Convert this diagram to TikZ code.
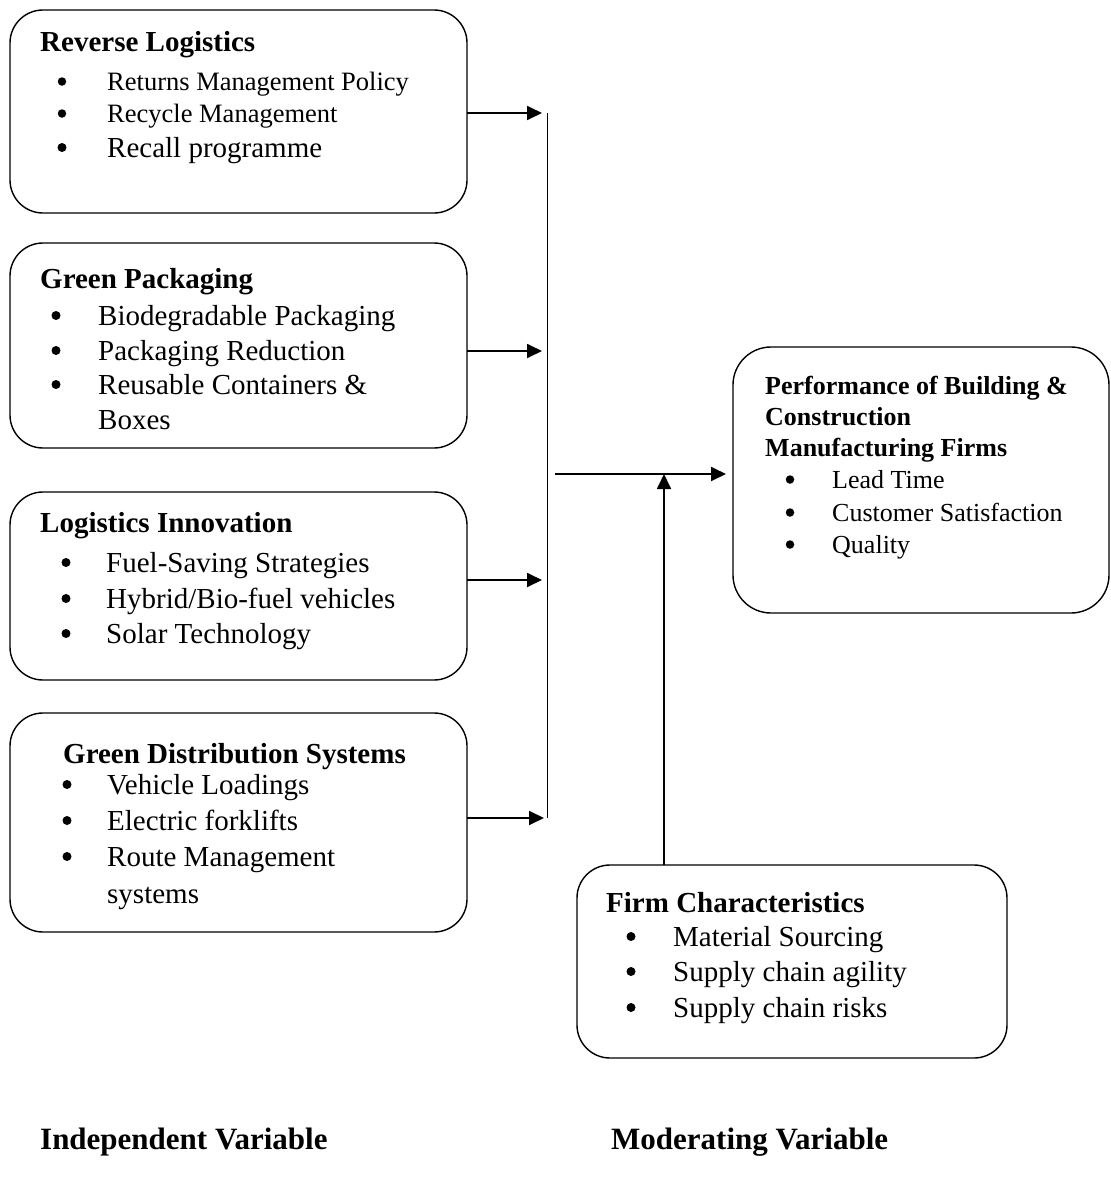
\documentclass[tikz,border=0pt]{standalone}
\usepackage{fontspec}
\setmainfont{Liberation Serif}
\usetikzlibrary{arrows.meta}
\begin{document}
\begin{tikzpicture}[x=1pt,y=-1pt,
  box/.style={draw, line width=1.4pt, rounded corners=33pt, inner sep=0pt, outer sep=0pt, anchor=north west},
  hd/.style={anchor=base west, inner sep=0pt, font=\fontsize{29}{34}\selectfont\bfseries},
  hds/.style={anchor=base west, inner sep=0pt, font=\fontsize{26}{31}\selectfont\bfseries},
  hdb/.style={anchor=base west, inner sep=0pt, font=\fontsize{31}{36}\selectfont\bfseries},
  itm/.style={anchor=base west, inner sep=0pt, font=\fontsize{29}{34}\selectfont},
  itms/.style={anchor=base west, inner sep=0pt, font=\fontsize{26.5}{31}\selectfont},
  itmp/.style={anchor=base west, inner sep=0pt, font=\fontsize{26}{31}\selectfont},
  bul/.style={circle, fill, inner sep=0pt, outer sep=0pt, minimum size=9pt, yshift=9.5pt},
  buls/.style={circle, fill, inner sep=0pt, outer sep=0pt, minimum size=8.5pt, yshift=8.5pt},
  arr/.style={line width=1.8pt, -{Triangle[length=15pt,width=14pt]}},
  bar/.style={line width=1pt}
]
\useasboundingbox (0,0) rectangle (1111,1181);

% boxes
\node[box, minimum width=457pt, minimum height=203pt] (b1) at (10,10) {};
\node[box, minimum width=457pt, minimum height=205pt] (b2) at (10,243) {};
\node[box, minimum width=457pt, minimum height=188pt] (b3) at (10,492) {};
\node[box, minimum width=457pt, minimum height=219pt] (b4) at (10,713) {};
\node[box, rounded corners=38pt, minimum width=376pt, minimum height=266pt] (perf) at (733,347) {};
\node[box, minimum width=430pt, minimum height=193pt] (firm) at (577,865) {};

% box 1
\node[hd] (t1h) at (40,51) {Reverse Logistics};
\node[buls] (t1b1) at (62,90) {};
\node[buls] (t1b2) at (62,122) {};
\node[bul] (t1b3) at (62,157) {};
\node[itms] (t1a) at (107,90) {Returns Management Policy};
\node[itms] (t1b) at (107,122) {Recycle Management};
\node[itm] (t1c) at (107,157) {Recall programme};

% box 2
\node[hd] (t2h) at (40,288) {Green Packaging};
\node[bul] (t2b1) at (56,325) {};
\node[bul] (t2b2) at (56,360) {};
\node[bul] (t2b3) at (56,394) {};
\node[itm] (t2a) at (98,325) {Biodegradable Packaging};
\node[itm] (t2b) at (98,360) {Packaging Reduction};
\node[itm] (t2c) at (98,394) {Reusable Containers \&};
\node[itm] (t2d) at (98,429) {Boxes};

% box 3
\node[hd] (t3h) at (40,532) {Logistics Innovation};
\node[bul] (t3b1) at (66,572) {};
\node[bul] (t3b2) at (66,608) {};
\node[bul] (t3b3) at (66,643) {};
\node[itm] (t3a) at (106,572) {Fuel-Saving Strategies};
\node[itm] (t3b) at (106,608) {Hybrid/Bio-fuel vehicles};
\node[itm] (t3c) at (106,643) {Solar Technology};

% box 4
\node[hd] (t4h) at (63,763) {Green Distribution Systems};
\node[bul] (t4b1) at (67,794) {};
\node[bul] (t4b2) at (67,830) {};
\node[bul] (t4b3) at (67,866) {};
\node[itm] (t4a) at (107,794) {Vehicle Loadings};
\node[itm] (t4b) at (107,830) {Electric forklifts};
\node[itm] (t4c) at (107,866) {Route Management};
\node[itm] (t4d) at (107,903) {systems};

% performance
\node[hds] (tph1) at (765,394) {Performance of Building \&};
\node[hds] (tph2) at (765,425) {Construction};
\node[hds] (tph3) at (765,456) {Manufacturing Firms};
\node[buls] (tpb1) at (790,488) {};
\node[buls] (tpb2) at (790,521) {};
\node[buls] (tpb3) at (790,553) {};
\node[itmp] (tpa) at (832,488) {Lead Time};
\node[itmp] (tpb) at (832,521) {Customer Satisfaction};
\node[itmp] (tpc) at (832,553) {Quality};

% firm
\node[hd] (tfh) at (606,912) {Firm Characteristics};
\node[bul] (tfb1) at (631,946) {};
\node[bul] (tfb2) at (631,981) {};
\node[bul] (tfb3) at (631,1017) {};
\node[itm] (tfa) at (673,946) {Material Sourcing};
\node[itm] (tfb) at (673,981) {Supply chain agility};
\node[itm] (tfc) at (673,1017) {Supply chain risks};

% bottom labels
\node[hdb] (lind) at (40,1149) {Independent Variable};
\node[hdb] (lmod) at (611,1149) {Moderating Variable};

% connectors
\coordinate (vt) at (547,113);
\coordinate (vb) at (547,818);
\draw[bar] (vt) -- (vb);
\coordinate (a1) at (542,113);
\coordinate (a2) at (542,351);
\coordinate (a3) at (542,580);
\coordinate (a4) at (544,818);
\draw[arr] (b1.east |- a1) -- (a1);
\draw[arr] (b2.east |- a2) -- (a2);
\draw[arr] (b3.east |- a3) -- (a3);
\draw[arr] (b4.east |- a4) -- (a4);
\coordinate (ms) at (555,474);
\coordinate (me) at (726,474);
\draw[arr] (ms) -- (me);
\coordinate (mt) at (664,474);
\draw[arr] (firm.north -| mt) -- (mt);
\end{tikzpicture}
\end{document}
